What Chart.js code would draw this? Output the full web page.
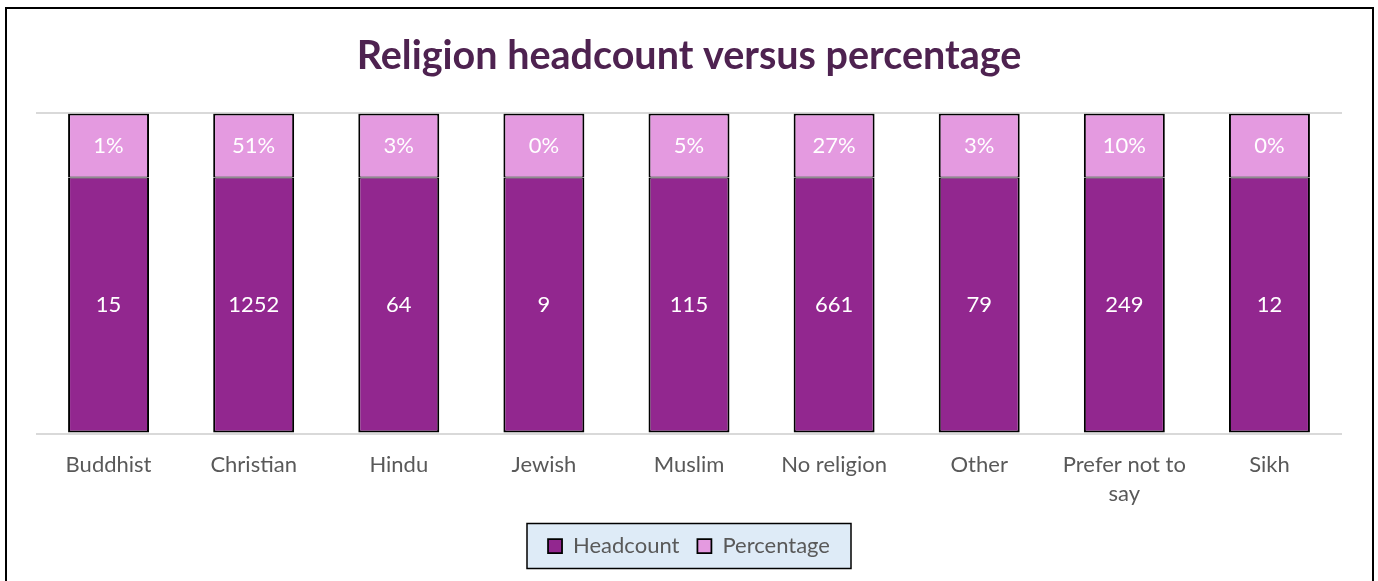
<!DOCTYPE html>
<html>
<head>
    <title>Religion headcount versus percentage</title>
    <style>
        body { margin: 0; background: #fff; overflow: hidden; }
        #wrap { position: absolute; left: 0; top: 0; width: 1378px; height: 581px; }
        #frame { position: absolute; left: 5px; top: 7px; width: 1365px; height: 600px; border: 2px solid #000; pointer-events: none; }
    </style>
</head>
<body>
    <div id="wrap"><canvas id="religionChart" width="1378" height="581"></canvas></div>
    <div id="frame"></div>

    <script src="https://cdn.jsdelivr.net/npm/chart.js"></script>
    <script>
        const categories = ['Buddhist', 'Christian', 'Hindu', 'Jewish', 'Muslim', 'No religion', 'Other', ['Prefer not to', 'say'], 'Sikh'];
        const headcount = [15, 1252, 64, 9, 115, 661, 79, 249, 12];
        const percentage = [1, 51, 3, 0, 5, 27, 3, 10, 0];

        // every column is split into the same two bands: headcount row below, percentage row on top
        const headcountBand = 4;
        const percentageBand = 1;

        const FONT = 'Lato, "Open Sans", sans-serif';

        // light blue panel behind the legend items
        const legendPanel = {
            id: 'legendPanel',
            beforeDraw(chart) {
                const lg = chart.legend;
                if (!lg || !lg.legendHitBoxes || !lg.legendHitBoxes.length) return;
                const boxes = lg.legendHitBoxes;
                const left = Math.min(...boxes.map(b => b.left));
                const right = Math.max(...boxes.map(b => b.left + b.width));
                const top = Math.min(...boxes.map(b => b.top));
                const bottom = Math.max(...boxes.map(b => b.top + b.height));
                const cx = (left + right) / 2, cy = (top + bottom) / 2;
                const w = 324, h = 45;
                const ctx = chart.ctx;
                ctx.save();
                ctx.fillStyle = '#DEEBF7';
                ctx.fillRect(cx - w / 2, cy - h / 2, w, h);
                ctx.strokeStyle = '#000';
                ctx.lineWidth = 1.5;
                ctx.strokeRect(cx - w / 2, cy - h / 2, w, h);
                ctx.restore();
            }
        };

        // white value labels in the middle of each segment
        const segmentLabels = {
            id: 'segmentLabels',
            afterDatasetsDraw(chart) {
                const ctx = chart.ctx;
                ctx.save();
                ctx.fillStyle = '#fff';
                ctx.font = '22px ' + FONT;
                ctx.textAlign = 'center';
                ctx.textBaseline = 'middle';
                chart.data.datasets.forEach((ds, i) => {
                    const meta = chart.getDatasetMeta(i);
                    meta.data.forEach((bar, j) => {
                        const text = i === 0 ? String(headcount[j]) : percentage[j] + '%';
                        ctx.fillText(text, bar.x, (bar.y + bar.base) / 2);
                    });
                });
                ctx.restore();
            }
        };

        new Chart(document.getElementById('religionChart'), {
            type: 'bar',
            data: {
                labels: categories,
                datasets: [
                    {
                        label: 'Headcount',
                        data: headcount.map(() => headcountBand),
                        backgroundColor: '#92278F',
                        borderColor: '#000',
                        borderWidth: { top: 1, left: 2, right: 2, bottom: 2 },
                        borderSkipped: false
                    },
                    {
                        label: 'Percentage',
                        data: percentage.map(() => percentageBand),
                        backgroundColor: '#E49AE0',
                        borderColor: '#000',
                        borderWidth: { top: 2, left: 2, right: 2, bottom: 1 },
                        borderSkipped: false
                    }
                ]
            },
            options: {
                responsive: false,
                animation: false,
                categoryPercentage: 1,
                barPercentage: 0.558,
                layout: { padding: { left: 36, right: 36, top: 0, bottom: 14 } },
                plugins: {
                    title: {
                        display: true,
                        text: 'Religion headcount versus percentage',
                        color: '#4E2250',
                        font: { family: FONT, size: 39.5, weight: 'bold' },
                        padding: { top: 33, bottom: 33 }
                    },
                    legend: {
                        position: 'bottom',
                        labels: {
                            color: '#595959',
                            font: { family: FONT, size: 22 },
                            boxWidth: 14,
                            boxHeight: 14,
                            padding: 18
                        }
                    },
                    tooltip: { enabled: false }
                },
                scales: {
                    x: {
                        stacked: true,
                        grid: { display: false },
                        border: { display: false },
                        ticks: { color: '#595959', font: { family: FONT, size: 22, lineHeight: 1.35 }, padding: 8, maxRotation: 0 }
                    },
                    y: {
                        stacked: true,
                        min: 0,
                        max: headcountBand + percentageBand,
                        grid: { color: '#D9D9D9', lineWidth: 2, drawTicks: false },
                        border: { display: false },
                        ticks: { display: false, stepSize: headcountBand + percentageBand }
                    }
                }
            },
            plugins: [legendPanel, segmentLabels]
        });
    </script>
</body>
</html>
